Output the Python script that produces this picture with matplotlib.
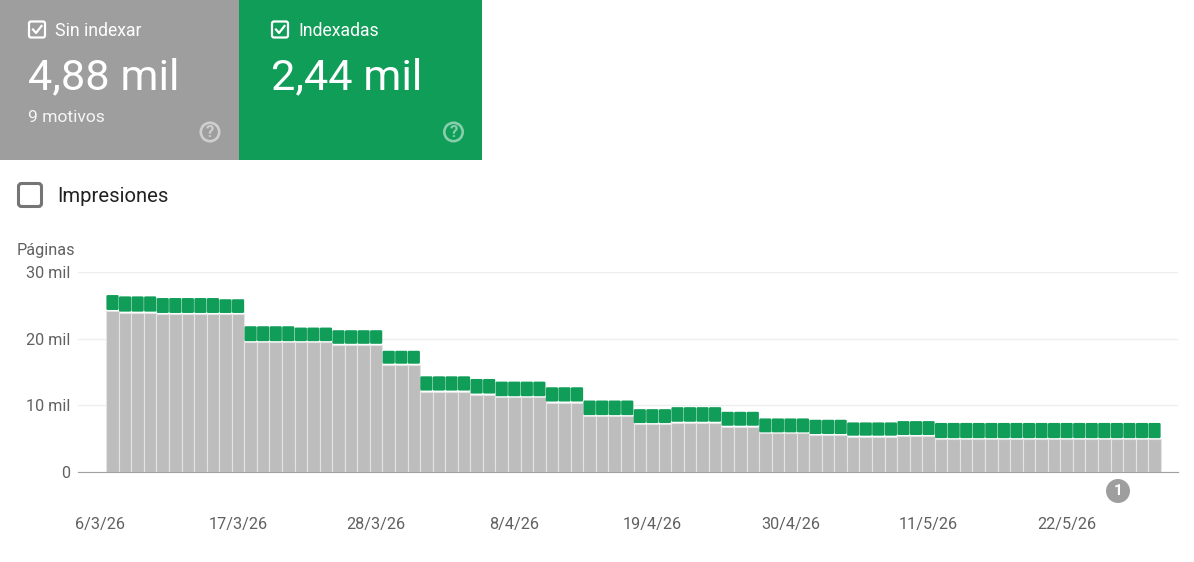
import matplotlib
matplotlib.use("Agg")
import matplotlib.pyplot as plt
from matplotlib.patches import Circle, FancyBboxPatch, Rectangle

plt.rcParams["font.family"] = ["Roboto", "DejaVu Sans"]

W, H = 1194, 562

GREY_CARD = "#9e9e9e"
GREEN = "#0f9d58"
BAR_GREY = "#bdbdbd"
TEXT = "#616161"

# miles de paginas por dia
sin_indexar = [
    24.2, 23.95, 23.95, 23.95, 23.75, 23.75, 23.75, 23.75, 23.75, 23.75, 23.75, 19.5,
    19.5, 19.5, 19.5, 19.5, 19.5, 19.5, 19.1, 19.1, 19.1, 19.1, 16.1, 16.1,
    16.1, 12.05, 12.05, 12.05, 12.05, 11.6, 11.6, 11.2, 11.2, 11.2, 11.2, 10.4,
    10.4, 10.4, 8.35, 8.35, 8.35, 8.35, 7.15, 7.15, 7.15, 7.35, 7.35, 7.35,
    7.35, 6.75, 6.75, 6.75, 5.75, 5.75, 5.75, 5.75, 5.5, 5.5, 5.5, 5.25,
    5.25, 5.25, 5.25, 5.35, 5.35, 5.35, 4.88, 4.88, 4.88, 4.88, 4.88, 4.88,
    4.88, 4.88, 4.88, 4.88, 4.88, 4.88, 4.88, 4.88, 4.88, 4.88, 4.88, 4.88,
]
indexadas = [
    2.4, 2.45, 2.45, 2.45, 2.4, 2.4, 2.4, 2.4, 2.4, 2.22, 2.22, 2.4,
    2.4, 2.4, 2.4, 2.2, 2.2, 2.2, 2.2, 2.2, 2.2, 2.2, 2.1, 2.1,
    2.1, 2.3, 2.3, 2.3, 2.3, 2.35, 2.35, 2.35, 2.35, 2.35, 2.35, 2.3,
    2.3, 2.3, 2.35, 2.35, 2.35, 2.35, 2.25, 2.25, 2.25, 2.35, 2.35, 2.35,
    2.35, 2.25, 2.25, 2.25, 2.25, 2.25, 2.25, 2.25, 2.3, 2.3, 2.3, 2.15,
    2.15, 2.15, 2.15, 2.25, 2.25, 2.25, 2.44, 2.44, 2.44, 2.44, 2.44, 2.44,
    2.44, 2.44, 2.44, 2.44, 2.44, 2.44, 2.44, 2.44, 2.44, 2.44, 2.44, 2.44,
]
date_labels = ["6/3/26", "17/3/26", "28/3/26", "8/4/26", "19/4/26", "30/4/26", "11/5/26", "22/5/26"]
date_ticks = [-1, 10, 21, 32, 43, 54, 65, 76]
y_ticks = [0, 10, 20, 30]
y_labels = ["0", "10 mil", "20 mil", "30 mil"]


def draw_checkbox(ax, x, y, colour, tick):
    ax.add_patch(FancyBboxPatch((x + 1.5, y + 1.5), 16, 16, boxstyle="round,pad=0,rounding_size=2",
                                fc="none", ec=colour, lw=1.6))
    if tick:
        ax.plot([x + 5.5, x + 8.5, x + 14], [y + 9.5, y + 13, y + 6], color=colour, lw=1.6)


def draw_help(ax, x, y, colour):
    ax.add_patch(Circle((x, y), 9.2, fc="none", ec=colour, lw=1.9))
    ax.text(x, y + 0.5, "?", color=colour, fontsize=12, fontweight="bold", ha="center", va="center")


fig = plt.figure(figsize=(W / 100, H / 100), dpi=100)

# grafico de barras apiladas
ax = fig.add_axes([78 / W, (H - 471.5) / H, 1100 / W, 199 / H])
days = list(range(len(sin_indexar)))
ax.bar(days, sin_indexar, width=1.0, color=BAR_GREY, edgecolor="#e4e4e4", linewidth=0.8, zorder=2)
for d, base, top in zip(days, sin_indexar, indexadas):
    # mutation_aspect compensa la diferencia de escala entre x e y
    ax.add_patch(FancyBboxPatch((d - 0.485, base + 0.15), 0.97, top - 0.15,
                                boxstyle="round,pad=0,rounding_size=0.1", mutation_aspect=1.9,
                                fc=GREEN, ec="none", zorder=3))
ax.set_xlim(-2.75, 84.87)
ax.set_ylim(0, 30)
ax.set_yticks(y_ticks, y_labels)
ax.set_xticks(date_ticks, date_labels)
ax.tick_params(axis="both", length=0, labelsize=11.7, labelcolor=TEXT)
ax.tick_params(axis="y", pad=5.5)
ax.tick_params(axis="x", pad=33)
ax.grid(axis="y", color="#eeeeee", lw=1)
ax.set_axisbelow(True)
for name in ["top", "left", "right"]:
    ax.spines[name].set_visible(False)
ax.spines["bottom"].set_color("#a0a0a0")

# capa en pixeles para tarjetas y controles
ui = fig.add_axes([0, 0, 1, 1], zorder=5)
ui.set_xlim(0, W)
ui.set_ylim(H, 0)
ui.axis("off")

ui.add_patch(Rectangle((0, 0), 239, 160, fc=GREY_CARD, ec="none"))
ui.add_patch(Rectangle((239, 0), 243, 160, fc=GREEN, ec="none"))

draw_checkbox(ui, 27.5, 20, "white", True)
draw_checkbox(ui, 270.5, 20, "white", True)
ui.text(55, 30.5, "Sin indexar", color="white", fontsize=12.7, va="center")
ui.text(298, 30.5, "Indexadas", color="white", fontsize=12.7, va="center")
ui.text(28, 78, "4,88 mil", color="white", fontsize=31.2, va="center")
ui.text(271, 78, "2,44 mil", color="white", fontsize=31.2, va="center")
ui.text(28, 117, "9 motivos", color="white", fontsize=12.6, va="center", alpha=0.9)
draw_help(ui, 210, 132, "#cfcfcf")
draw_help(ui, 453.5, 132, "#87ceab")

ui.add_patch(FancyBboxPatch((18.5, 183.5), 23, 23, boxstyle="round,pad=0,rounding_size=3",
                            fc="white", ec="#757575", lw=2.2))
ui.text(57, 196, "Impresiones", color="#212121", fontsize=14.6, va="center")
ui.text(17, 250.5, "Páginas", color=TEXT, fontsize=11.7, va="center")

ui.add_patch(Circle((1118, 491), 12, fc=GREY_CARD, ec="none"))
ui.text(1118, 491, "1", color="white", fontsize=11, fontweight="bold", ha="center", va="center")

fig.savefig("out.png", dpi=100)
